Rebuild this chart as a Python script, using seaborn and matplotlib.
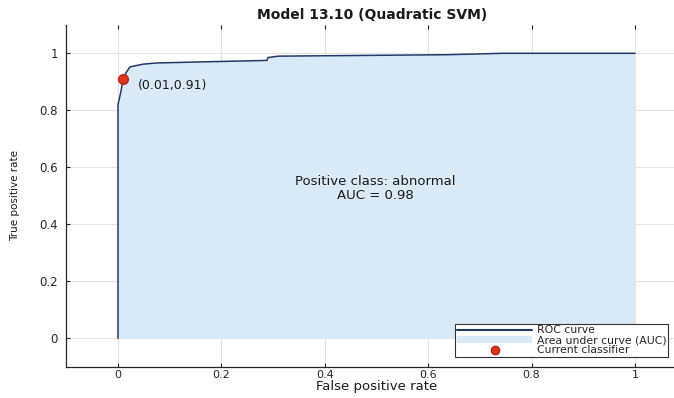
import matplotlib
matplotlib.use("Agg")
import matplotlib.pyplot as plt
import seaborn as sns
import pandas as pd
from matplotlib.patches import Patch
from matplotlib.lines import Line2D

# ROC curve
fpr = [0.0, 0.0, 0.005, 0.01, 0.015, 0.023, 0.03, 0.049, 0.075, 0.12, 0.165,
       0.288, 0.29, 0.31, 0.636, 0.745, 1.0]
tpr = [0.0, 0.82, 0.86, 0.91, 0.93, 0.952, 0.955, 0.962, 0.966, 0.968, 0.97,
       0.975, 0.985, 0.99, 0.995, 1.0, 1.0]
current_point = (0.01, 0.91)
auc_value = 0.98
positive_class = "abnormal"
title = "Model 13.10 (Quadratic SVM)"
xticks = [0, 0.2, 0.4, 0.6, 0.8, 1]
yticks = [0, 0.2, 0.4, 0.6, 0.8, 1]
tick_labels = ["0", "0.2", "0.4", "0.6", "0.8", "1"]

sns.set_style("ticks")
plt.rcParams["font.family"] = ["DejaVu Sans"]

W, H = 674, 398
fig = plt.figure(figsize=(W / 100, H / 100), dpi=100)
x0, x1 = 66.3, 686.7
y_top, y_bot = 24.8, 366.8
ax = fig.add_axes([x0 / W, (H - y_bot) / H, (x1 - x0) / W, (y_bot - y_top) / H])

df = pd.DataFrame({"fpr": fpr, "tpr": tpr})
fill_col = "#d9eaf6"
line_col = "#1f3a68"
ax.fill_between(df["fpr"], df["tpr"], 0, color=fill_col, linewidth=0, zorder=1)
sns.lineplot(data=df, x="fpr", y="tpr", sort=False, estimator=None,
             color=line_col, linewidth=1.1, ax=ax, zorder=3)
ax.plot([current_point[0]], [current_point[1]], "o", color="#d9381e",
        markeredgecolor="#b52512", markersize=7, zorder=4, clip_on=False)
ax.text(current_point[0] + 0.029, current_point[1] - 0.022,
        f"({current_point[0]:.2f},{current_point[1]:.2f})",
        fontsize=9, color="#1a1a1a", ha="left", va="center", zorder=5)
ax.text(0.497, 0.527, f"Positive class: {positive_class}\nAUC = {auc_value:.2f}",
        fontsize=9.5, color="#1a1a1a", ha="center", va="center",
        linespacing=1.1, zorder=5)

ax.set_xlim(-0.1, 1.1)
ax.set_ylim(-0.1, 1.1)
ax.set_xticks(xticks)
ax.set_xticklabels(tick_labels)
ax.set_yticks(yticks)
ax.set_yticklabels(tick_labels)
ax.grid(True, color="#e3e3e3", linewidth=0.8, zorder=0)
ax.set_axisbelow(True)
ax.tick_params(direction="in", length=3, width=0.8, colors="#262626",
               labelsize=8.5, top=True, right=True)
ax.tick_params(axis="x", pad=2, labelsize=8)
ax.tick_params(axis="y", pad=6)
for s in ["left", "bottom"]:
    ax.spines[s].set_color("#262626")
    ax.spines[s].set_linewidth(0.9)
for s in ["top", "right"]:
    ax.spines[s].set_visible(False)
ax.set_xlabel("False positive rate", fontsize=9.5, color="#1a1a1a", labelpad=0.5)
ax.set_ylabel("True positive rate", fontsize=7.5, color="#1a1a1a", labelpad=14)
fig.text(372 / W, 1 - 15 / H, title, fontsize=10, fontweight="bold",
         ha="center", va="center", color="#1a1a1a")

handles = [
    Line2D([0], [0], color=line_col, linewidth=1.5),
    Patch(facecolor=fill_col, edgecolor="none"),
    Line2D([0], [0], marker="o", linestyle="none", color="#d9381e",
           markeredgecolor="#b52512", markersize=6),
]
labels = ["ROC curve", "Area under curve (AUC)", "Current classifier"]
leg = ax.legend(handles, labels, loc="lower right",
                bbox_to_anchor=((668 - x0) / (x1 - x0), (y_bot - 357) / (y_bot - y_top)),
                fontsize=7.8, frameon=True, fancybox=False, framealpha=1,
                edgecolor="#333333", borderpad=0.15, labelspacing=0.0,
                handlelength=7, handleheight=0.7, handletextpad=0.4,
                borderaxespad=0)
leg.get_frame().set_linewidth(0.8)

fig.savefig("out.png", dpi=100)
